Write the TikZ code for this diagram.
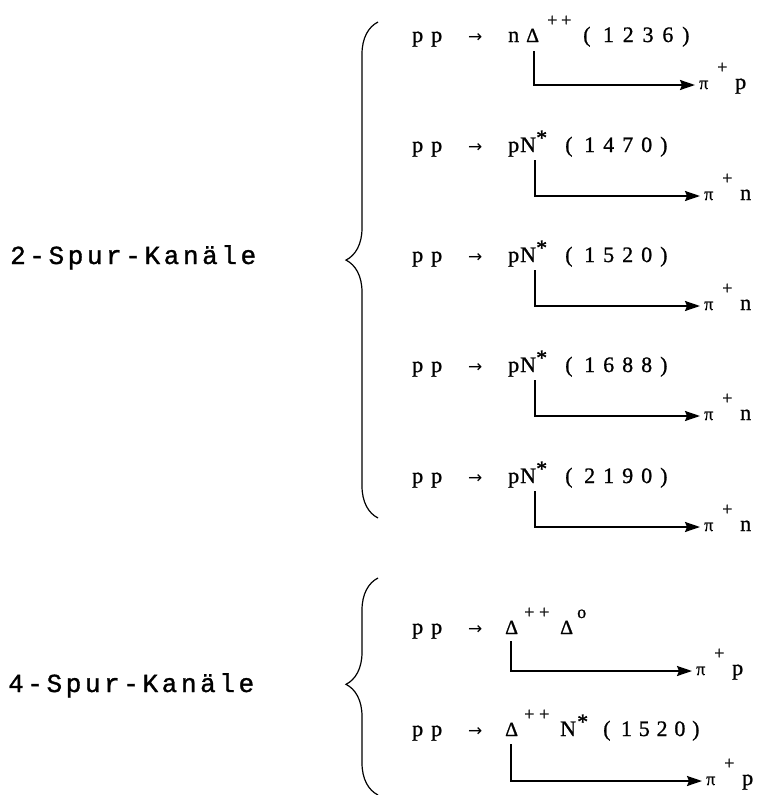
\documentclass[tikz,border=0pt]{standalone}
\usepackage{fontspec}
\setmainfont{Liberation Serif}
\newfontfamily\rowfont[FakeBold=1]{Liberation Serif}
\newfontfamily\labfont[FakeBold=1.2]{Liberation Mono}
\newfontfamily\arwfont{DejaVu Sans}
\usetikzlibrary{decorations.pathreplacing,arrows.meta}
\newcommand\g[2]{\makebox[#1][l]{#2}}
\newcommand\up[3]{\raisebox{#1}{\fontsize{#2}{#2}\selectfont #3}}
\newcommand\pl{\up{16pt}{18}{+}}
\newcommand\st{\up{7pt}{22}{*}}
\newcommand\dl{{\fontsize{20}{20}\selectfont Δ}}
\newcommand\arw{{\arwfont\fontsize{17}{17}\selectfont →}}
\newcommand\pre{\g{19pt}{p}\g{37pt}{p}}
\newcommand\decp[1]{\g{18pt}{\fontsize{18}{18}\selectfont π}\g{18pt}{\up{16pt}{18}{+}}#1}
\newcommand\lab[1]{\g{19.2pt}{#1}}
\tikzset{
  rowtext/.style={anchor=base west, inner sep=0pt, font=\rowfont\fontsize{22}{22}\selectfont},
  labtext/.style={anchor=base west, inner sep=0pt, font=\labfont\fontsize{26}{26}\selectfont},
  prodtext/.style={anchor=base west, inner sep=0pt, font=\rowfont\fontsize{22}{22}\selectfont},
  decay/.style={line width=1.8pt, -{Stealth[length=15pt,width=10pt,inset=2pt]}},
  bracestyle/.style={line width=1.2pt, decorate, decoration={brace, amplitude=32pt, aspect=#1}}
}
\begin{document}
\begin{tikzpicture}[x=1pt,y=-1pt]
\useasboundingbox (0,0) rectangle (765,795);
% labels
\node[labtext] (l2) at (10,264) {\lab{2}\lab{-}\lab{S}\lab{p}\lab{u}\lab{r}\lab{-}\lab{K}\lab{a}\lab{n}\lab{ä}\lab{l}e};
\node[labtext] (l4) at (8,692) {\lab{4}\lab{-}\lab{S}\lab{p}\lab{u}\lab{r}\lab{-}\lab{K}\lab{a}\lab{n}\lab{ä}\lab{l}e};
% braces
\coordinate (b1b) at (378,518);
\coordinate (b1t) at (378,22);
\draw[bracestyle=0.52] (b1b) -- (b1t);
\coordinate (b2b) at (378,795);
\coordinate (b2t) at (378,578);
\draw[bracestyle=0.51] (b2b) -- (b2t);
% rows
\node[rowtext] (r1) at (412,42) {\pre\g{40pt}{\arw}\g{18pt}{n}\g{21pt}{\dl}\g{14pt}{\pl}\g{22pt}{\pl}\g{19.8pt}{(}\g{19.8pt}{1}\g{19.8pt}{2}\g{19.8pt}{3}\g{19.8pt}{6})};
\node[rowtext] (r2) at (412,152) {\pre\g{40pt}{\arw}\g{12pt}{p}\g{16pt}{N}\g{29pt}{\st}\g{19pt}{(}\g{19pt}{1}\g{19pt}{4}\g{19pt}{7}\g{19pt}{0})};
\node[rowtext] (r3) at (412,262) {\pre\g{40pt}{\arw}\g{12pt}{p}\g{16pt}{N}\g{29pt}{\st}\g{19pt}{(}\g{19pt}{1}\g{19pt}{5}\g{19pt}{2}\g{19pt}{0})};
\node[rowtext] (r4) at (412,372) {\pre\g{40pt}{\arw}\g{12pt}{p}\g{16pt}{N}\g{29pt}{\st}\g{19pt}{(}\g{19pt}{1}\g{19pt}{6}\g{19pt}{8}\g{19pt}{8})};
\node[rowtext] (r5) at (412,483) {\pre\g{40pt}{\arw}\g{12pt}{p}\g{16pt}{N}\g{29pt}{\st}\g{19pt}{(}\g{19pt}{2}\g{19pt}{1}\g{19pt}{9}\g{19pt}{0})};
\node[rowtext] (r6) at (412,634) {\pre\g{37pt}{\arw}\g{19pt}{\dl}\g{15pt}{\pl}\g{21pt}{\pl}\g{17pt}{\dl}\up{16pt}{18}{o}};
\node[rowtext] (r7) at (412,736) {\pre\g{37pt}{\arw}\g{19pt}{\dl}\g{15pt}{\pl}\g{21pt}{\pl}\g{17pt}{N}\g{26pt}{\st}\g{17.8pt}{(}\g{17.8pt}{1}\g{17.8pt}{5}\g{17.8pt}{2}\g{17.8pt}{0})};
% decay products
\foreach \i/\y/\t/\p in {1/85/695/p,2/196/700/n,3/306/700/n,4/416/700/n,5/527/700/n,6/671/692/p,7/781/702/p}{
  \coordinate (t\i) at (\t,\y);
  \node[prodtext] (d\i) at (\t+4,\y+4) {\decp{\p}};
}
\coordinate (s1) at (534,51);
\coordinate (s2) at (535,160);
\coordinate (s3) at (535,270);
\coordinate (s4) at (535,380);
\coordinate (s5) at (535,491);
\coordinate (s6) at (511,641);
\coordinate (s7) at (511,744);
\foreach \i in {1,...,7}{\draw[decay] (s\i) |- (t\i);}
\end{tikzpicture}
\end{document}
